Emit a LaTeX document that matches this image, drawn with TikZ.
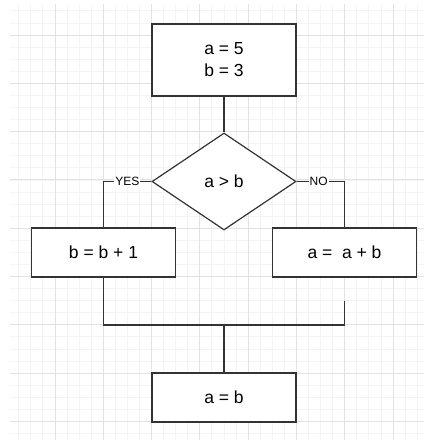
\documentclass[tikz,border=0pt]{standalone}
\usepackage{fontspec}
\setmainfont{Liberation Sans}
\usetikzlibrary{shapes.geometric}
\definecolor{gridminor}{HTML}{F4F4F4}
\definecolor{gridmajor}{HTML}{E2E2E2}
\definecolor{edge}{HTML}{333333}
\tikzset{
  stepbox/.style={draw=edge, line width=1.2pt, fill=white, rectangle, inner sep=0pt,
    minimum width=144pt, font=\fontsize{17.5}{22}\selectfont, align=center},
  decision/.style={draw=edge, line width=1.2pt, fill=white, diamond, inner sep=0pt,
    minimum width=144pt, minimum height=97pt, font=\fontsize{17.5}{22}\selectfont},
  link/.style={draw=edge, line width=1.2pt},
  branchlabel/.style={fill=white, inner sep=1pt, font=\fontsize{12}{14}\selectfont}
}
\begin{document}
\begin{tikzpicture}[x=1pt, y=-1pt]
  \useasboundingbox (0,0) rectangle (424,440);
  % background grid: minor and major lines
  \foreach \i in {0,...,35} {
    \pgfmathsetmacro{\gx}{6.6+12.075*\i}
    \ifdim\gx pt>10pt \draw[gridminor, line width=0.8pt] (\gx,4) -- (\gx,440); \fi
  }
  \foreach \i in {0,...,36} {
    \pgfmathsetmacro{\gy}{10.85+12.075*\i}
    \draw[gridminor, line width=0.8pt] (10,\gy) -- (424,\gy);
  }
  \foreach \i in {0,...,7} {
    \pgfmathsetmacro{\gx}{55+48.3*\i}
    \draw[gridmajor, line width=0.9pt] (\gx,4) -- (\gx,440);
  }
  \foreach \i in {0,...,8} {
    \pgfmathsetmacro{\gy}{35+48.3*\i}
    \draw[gridmajor, line width=0.9pt] (10,\gy) -- (424,\gy);
  }

  % flowchart nodes
  \node[stepbox, minimum height=72pt] (init) at (224,60) {a = 5\\b = 3};
  \node[decision] (test) at (224,181.5) {a > b};
  \node[stepbox, minimum height=49pt] (yes) at (103.5,252.5) {b = b + 1};
  \node[stepbox, minimum height=49pt] (no) at (344.5,252.5) {a =\ \ a + b};
  \node[stepbox, minimum height=49pt] (last) at (224,397.5) {a = b};

  % join points
  \coordinate (joinL) at (103.5,325);
  \coordinate (joinM) at (224,325);
  \coordinate (joinR) at (344.5,325);
  \coordinate (stubR) at (344.5,300.5);

  % connectors
  \draw[link] (init.south) -- (test.north);
  \draw[link] (test.west) -| node[branchlabel, pos=0.25] {YES} (yes.north);
  \draw[link] (test.east) -| node[branchlabel, pos=0.23] {NO} (no.north);
  \draw[link] (yes.south) -- (joinL) -- (joinR) -- (stubR);
  \draw[link] (joinM) -- (last.north);
\end{tikzpicture}
\end{document}
